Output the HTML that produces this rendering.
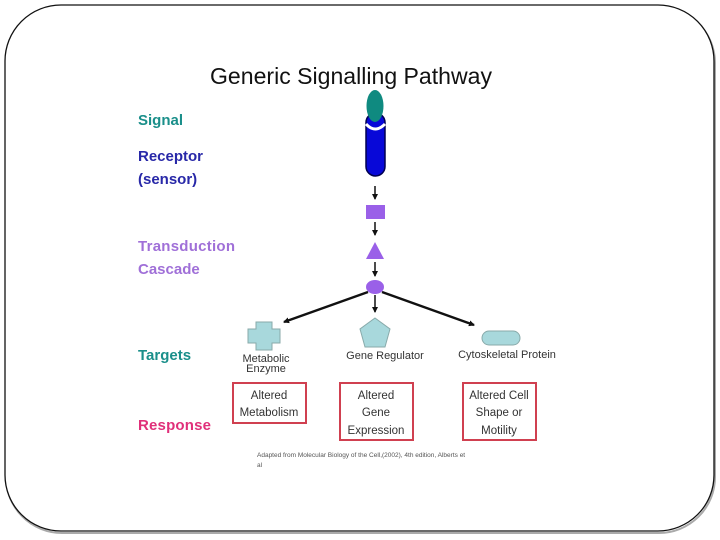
<!DOCTYPE html>
<html><head><meta charset="utf-8"><style>
html,body{margin:0;padding:0;background:#fff;}
svg{display:block;}
text{font-family:"Liberation Sans",Arial,sans-serif;}
</style></head><body>
<svg width="720" height="540" viewBox="0 0 720 540">
<defs>
<marker id="ah" markerWidth="6" markerHeight="6" refX="5" refY="3" orient="auto" markerUnits="userSpaceOnUse"><path d="M0,0 L6,3 L0,6 z" fill="#111"/></marker>
</defs>
<rect x="6" y="7" width="709" height="526" rx="56" fill="none" stroke="#aaa" stroke-width="2"/>
<rect x="5" y="5" width="709" height="526" rx="56" fill="#fff" stroke="#111" stroke-width="1.3"/>

<text x="351" y="84" font-size="23" text-anchor="middle" fill="#111" textLength="282" lengthAdjust="spacingAndGlyphs">Generic Signalling Pathway</text>

<g font-weight="bold" font-size="15">
<text x="138" y="125" fill="#1a8f8a">Signal</text>
<text x="138" y="161" fill="#2828a8">Receptor</text>
<text x="138" y="184" fill="#2828a8">(sensor)</text>
<text x="138" y="251" fill="#a070d8" textLength="97">Transduction</text>
<text x="138" y="274" fill="#a070d8">Cascade</text>
<text x="138" y="360" fill="#1a8f8a">Targets</text>
<text x="138" y="430" fill="#e0307a" textLength="73">Response</text>
</g>

<rect x="366" y="113" width="19" height="63" rx="9.5" fill="#0808d8" stroke="#000050" stroke-width="1.5"/>
<path d="M366,124 Q375,134 385,124" fill="none" stroke="#fff" stroke-width="3"/>
<ellipse cx="375" cy="106" rx="8.5" ry="16" fill="#0f8a80"/>

<line x1="375" y1="186" x2="375" y2="199" stroke="#111" stroke-width="1.5" marker-end="url(#ah)"/>
<rect x="366" y="205" width="19" height="14" fill="#9a60e8"/>
<line x1="375" y1="222" x2="375" y2="235" stroke="#111" stroke-width="1.5" marker-end="url(#ah)"/>
<polygon points="375,242 384,259 366,259" fill="#9a60e8"/>
<line x1="375" y1="262" x2="375" y2="276" stroke="#111" stroke-width="1.5" marker-end="url(#ah)"/>
<ellipse cx="375" cy="287" rx="9" ry="7" fill="#9a60e8"/>

<line x1="368" y1="292" x2="284" y2="322" stroke="#111" stroke-width="2.5" marker-end="url(#ah)"/>
<line x1="375" y1="295" x2="375" y2="312" stroke="#111" stroke-width="1.5" marker-end="url(#ah)"/>
<line x1="382" y1="292" x2="474" y2="325" stroke="#111" stroke-width="2.5" marker-end="url(#ah)"/>

<path d="M256,322 H272 V329 H280 V343 H272 V350 H256 V343 H248 V329 H256 Z" fill="#a8d8dc" stroke="#8aa" stroke-width="1"/>
<polygon points="375,318 390,329 385,347 365,347 360,329" fill="#a8d8dc" stroke="#8aa" stroke-width="1"/>
<rect x="482" y="331" width="38" height="14" rx="7" fill="#a8d8dc" stroke="#8aa" stroke-width="1"/>

<g font-size="11" fill="#333" text-anchor="middle">
<text x="266" y="362">Metabolic</text>
<text x="266" y="372">Enzyme</text>
<text x="385" y="359">Gene Regulator</text>
<text x="507" y="358">Cytoskeletal Protein</text>
</g>

<g fill="#fff" stroke="#d04050" stroke-width="2">
<rect x="233" y="383" width="73" height="40"/>
<rect x="340" y="383" width="73" height="57"/>
<rect x="463" y="383" width="73" height="57"/>
</g>
<g font-size="11.5" fill="#333" text-anchor="middle">
<text x="269" y="399">Altered</text>
<text x="269" y="416">Metabolism</text>
<text x="376" y="399">Altered</text>
<text x="376" y="416">Gene</text>
<text x="376" y="434">Expression</text>
<text x="499" y="399">Altered Cell</text>
<text x="499" y="416">Shape or</text>
<text x="499" y="434">Motility</text>
</g>
<text x="257" y="457" font-size="6.5" fill="#555">Adapted from Molecular Biology of the Cell,(2002), 4th edition,  Alberts et</text>
<text x="257" y="467" font-size="6.5" fill="#555">al</text>
</svg>
</body></html>
